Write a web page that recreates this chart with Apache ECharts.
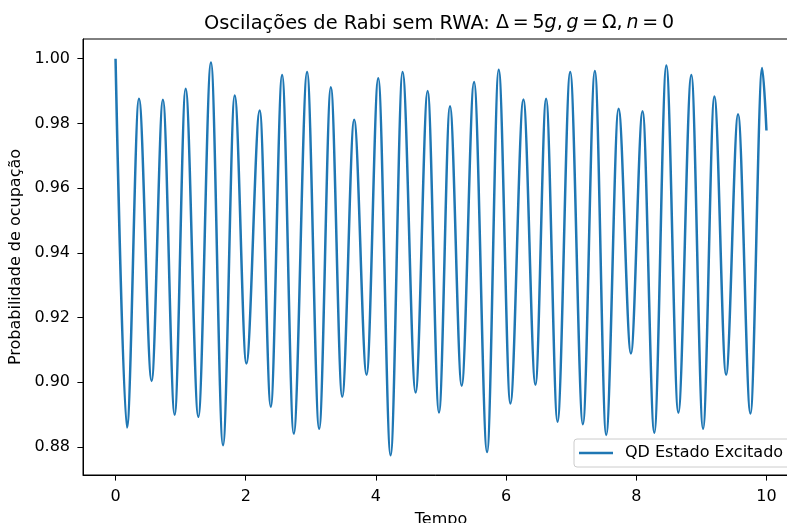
<!DOCTYPE html>
<html>
<head>
<meta charset="utf-8">
<script src="https://cdn.jsdelivr.net/npm/echarts@6/dist/echarts.min.js"></script>
<style>
html,body{margin:0;padding:0;background:#fff;}
#chart{width:787px;height:523px;}
</style>
</head>
<body>
<div id="chart"></div>
<script>
// Extrema (time, probability)
const tempo = [0, 0.175, 0.36, 0.554, 0.728, 0.908, 1.077, 1.272, 1.466, 1.651, 1.831, 2.01, 2.215, 2.385, 2.559, 2.738, 2.943, 3.128, 3.308, 3.482, 3.666, 3.857, 4.036, 4.226, 4.41, 4.61, 4.795, 4.969, 5.138, 5.318, 5.508, 5.708, 5.887, 6.066, 6.266, 6.451, 6.615, 6.79, 6.985, 7.18, 7.364, 7.538, 7.728, 7.918, 8.097, 8.277, 8.462, 8.646, 8.846, 9.026, 9.2, 9.38, 9.564, 9.754, 9.934, 10.0];
const probExcitado = [1.000, 0.886, 0.9876, 0.9004, 0.9873, 0.8899, 0.9907, 0.8893, 0.9988, 0.8805, 0.9886, 0.9058, 0.984, 0.8924, 0.995, 0.8841, 0.9959, 0.8856, 0.9912, 0.8955, 0.9811, 0.9023, 0.994, 0.8774, 0.9959, 0.8968, 0.99, 0.8906, 0.9853, 0.8989, 0.9928, 0.8784, 0.9966, 0.8934, 0.9874, 0.8992, 0.9876, 0.8878, 0.9959, 0.887, 0.9962, 0.8837, 0.9845, 0.9089, 0.9838, 0.8844, 0.9979, 0.8906, 0.995, 0.8856, 0.9883, 0.9023, 0.9828, 0.8903, 0.9971, 0.9778];
const xTicks = [0, 2, 4, 6, 8, 10];
const yTicks = [0.88, 0.90, 0.92, 0.94, 0.96, 0.98, 1.00];
const seriesName = 'QD Estado Excitado';
const xLabel = 'Tempo';
const yLabel = 'Probabilidade de ocupação';

const FONT = 'DejaVu Sans';
const chart = echarts.init(document.getElementById('chart'), null, {renderer: 'canvas'});
const data = tempo.map((t, i) => [t, probExcitado[i]]);
const TS = '\u2009';

chart.setOption({
  animation: false,
  backgroundColor: '#fff',
  title: {
    text: '{t|Oscilações de Rabi sem RWA: }{n|Δ' + TS + '=' + TS + '5}{i|g}{n|,' + TS + '}{i|g}{n|' + TS + '=' + TS + 'Ω,' + TS + '}{i|n}{n|' + TS + '=' + TS + '0}',
    left: 439,
    textAlign: 'center',
    top: 14,
    padding: 0,
    textStyle: {
      fontFamily: FONT, fontSize: 19, fontWeight: 'normal', color: '#000',
      rich: {
        t: {fontFamily: FONT, fontSize: 19.4, color: '#000'},
        n: {fontFamily: FONT, fontSize: 19, color: '#000'},
        i: {fontFamily: FONT, fontSize: 19, fontStyle: 'italic', color: '#000'}
      }
    }
  },
  legend: {
    data: [{name: seriesName, icon: 'rect'}],
    left: 574, top: 439,
    padding: [6, 9, 6, 5],
    itemWidth: 34, itemHeight: 2.5,
    backgroundColor: 'rgba(255,255,255,0.8)',
    borderColor: '#cccccc', borderWidth: 1, borderRadius: 3,
    textStyle: {fontFamily: FONT, fontSize: 16, color: '#000', padding: [0, 0, 0, 7]}
  },
  grid: {
    left: 83, top: 39, width: 716, height: 436,
    outerBoundsMode: 'none',
    show: true, borderColor: '#000', borderWidth: 1, backgroundColor: '#fff'
  },
  xAxis: {
    type: 'value', min: -0.5, max: 10.5,
    name: xLabel, nameLocation: 'middle', nameGap: 37,
    nameTextStyle: {fontFamily: FONT, fontSize: 16, color: '#000'},
    splitLine: {show: false},
    axisLine: {show: true, onZero: false, lineStyle: {color: '#000', width: 1}},
    axisTick: {show: true, inside: false, length: 5.6, customValues: xTicks, lineStyle: {color: '#000', width: 1}},
    axisLabel: {customValues: xTicks, margin: 14, fontFamily: FONT, fontSize: 16, color: '#000',
      formatter: v => String(v)}
  },
  yAxis: {
    type: 'value', min: 0.8713, max: 1.0061,
    name: yLabel, nameLocation: 'middle', nameGap: 49, nameRotate: 90,
    nameTextStyle: {fontFamily: FONT, fontSize: 16, color: '#000'},
    splitLine: {show: false},
    axisLine: {show: true, onZero: false, lineStyle: {color: '#000', width: 1}},
    axisTick: {show: true, inside: false, length: 5.6, customValues: yTicks, lineStyle: {color: '#000', width: 1}},
    axisLabel: {customValues: yTicks, margin: 13, fontFamily: FONT, fontSize: 16, color: '#000',
      formatter: v => v.toFixed(2)}
  },
  series: [{
    name: seriesName,
    type: 'line',
    data: data,
    showSymbol: false,
    smooth: 0.34,
    smoothMonotone: 'x',
    lineStyle: {color: '#1f77b4', width: 2.5},
    itemStyle: {color: '#1f77b4'}
  }]
});
</script>
</body>
</html>
